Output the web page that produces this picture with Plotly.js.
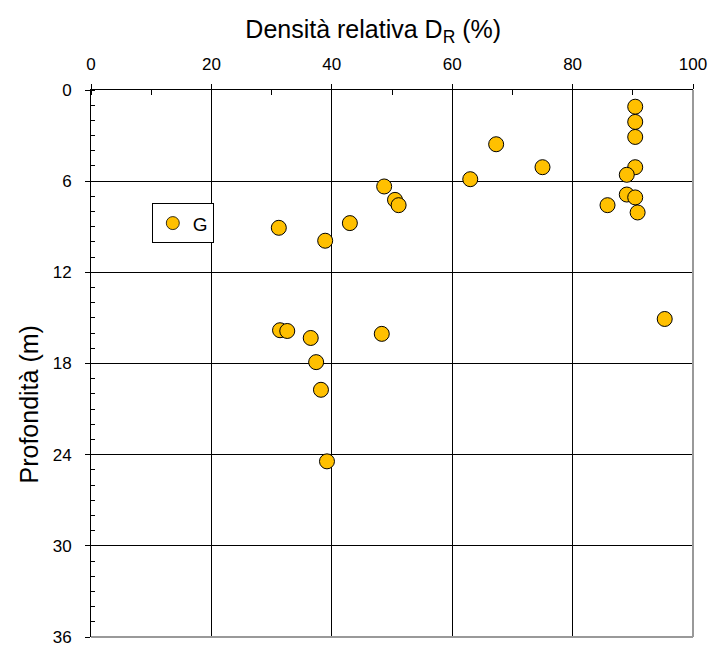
<!DOCTYPE html>
<html>
<head>
<meta charset="utf-8">
<script src="https://cdn.plot.ly/plotly-3.0.1.min.js"></script>
<style>html,body{margin:0;padding:0;background:#fff;}#chart{width:715px;height:646px;}</style>
</head>
<body>
<div id="chart"></div>
<script>
// Relative density D_R (%) and depth (m), series "G"
const densita = [90.4, 90.4, 90.4, 67.3, 75.0, 90.4, 89.0, 63.0, 48.7, 50.5, 51.1, 89.0, 90.4, 85.8, 90.8,
                 43.0, 31.2, 38.9, 95.3, 31.4, 32.6, 48.3, 36.5, 37.4, 38.2, 39.2];
const profondita = [1.10, 2.10, 3.09, 3.57, 5.08, 5.08, 5.58, 5.87, 6.35, 7.23, 7.58, 6.88, 7.07, 7.58, 8.06,
                    8.76, 9.07, 9.92, 15.07, 15.81, 15.86, 16.05, 16.32, 17.91, 19.73, 24.44];
const seriesName = 'G';
const xTickVals = [0, 20, 40, 60, 80, 100];
const yTickVals = [0, 6, 12, 18, 24, 30, 36];

const font = '"Liberation Sans", Arial, sans-serif';

const trace = {
  x: densita, y: profondita, name: seriesName, type: 'scatter', mode: 'markers',
  marker: {size: 15, color: '#FFC000', line: {color: '#000', width: 1}},
  showlegend: false
};
// legend-only glyph (smaller marker, as in the reference legend)
const legendTrace = {
  x: [null], y: [null], name: seriesName, type: 'scatter', mode: 'markers',
  marker: {size: 13, color: '#FFC000', line: {color: '#000', width: 0.8}},
  showlegend: true, hoverinfo: 'skip'
};

const layout = {
  width: 715, height: 646,
  margin: {l: 91, r: 22, t: 90, b: 9},
  paper_bgcolor: '#fff', plot_bgcolor: '#fff',
  font: {family: font, color: '#000', size: 17},
  title: {text: 'Densità relativa D<sub>R</sub> (%)', font: {size: 25, family: font},
          xref: 'container', x: 0.522, xanchor: 'center', yref: 'container', y: 0.955, yanchor: 'middle'},
  xaxis: {
    side: 'top', range: [0, 100], tickvals: xTickVals, ticktext: xTickVals.map(String),
    showgrid: true, gridcolor: '#000', gridwidth: 1,
    showline: true, linecolor: '#000', linewidth: 1, zeroline: false,
    ticks: 'outside', ticklen: 5, tickcolor: '#000', ticklabelstandoff: 7,
    minor: {ticks: 'inside', dtick: 10, tick0: 0, ticklen: 5, tickcolor: '#000', showgrid: false},
    tickfont: {size: 17}, ticklabeloverflow: 'allow', fixedrange: true
  },
  yaxis: {
    range: [36, 0], tickvals: yTickVals, ticktext: yTickVals.map(String),
    showgrid: true, gridcolor: '#000', gridwidth: 1,
    showline: true, linecolor: '#000', linewidth: 1, zeroline: false,
    ticks: 'outside', ticklen: 5, tickcolor: '#000', ticklabelstandoff: 10,
    minor: {ticks: 'inside', dtick: 1, tick0: 0, ticklen: 4, tickcolor: '#000', showgrid: false},
    tickfont: {size: 17}, ticklabeloverflow: 'allow', fixedrange: true
  },
  annotations: [{
    text: 'Profondità (m)', textangle: -90, showarrow: false,
    xref: 'paper', x: 0, xshift: -62, xanchor: 'center',
    yref: 'paper', y: 0.425, yanchor: 'middle',
    font: {size: 25, family: font, color: '#000'}
  }],
  legend: {
    x: 0.101, y: 0.793, xanchor: 'left', yanchor: 'top',
    bgcolor: '#fff', bordercolor: '#000', borderwidth: 1,
    font: {size: 19}, itemwidth: 30, itemsizing: 'trace'
  },
  shapes: [
    {type: 'line', xref: 'paper', yref: 'paper', x0: 1, x1: 1, y0: 0, y1: 1, line: {color: '#999', width: 2}},
    {type: 'line', xref: 'paper', yref: 'paper', x0: 0, x1: 1, y0: 0, y1: 0, line: {color: '#999', width: 2}}
  ]
};

Plotly.newPlot('chart', [trace, legendTrace], layout, {staticPlot: true, displayModeBar: false});
</script>
</body>
</html>
